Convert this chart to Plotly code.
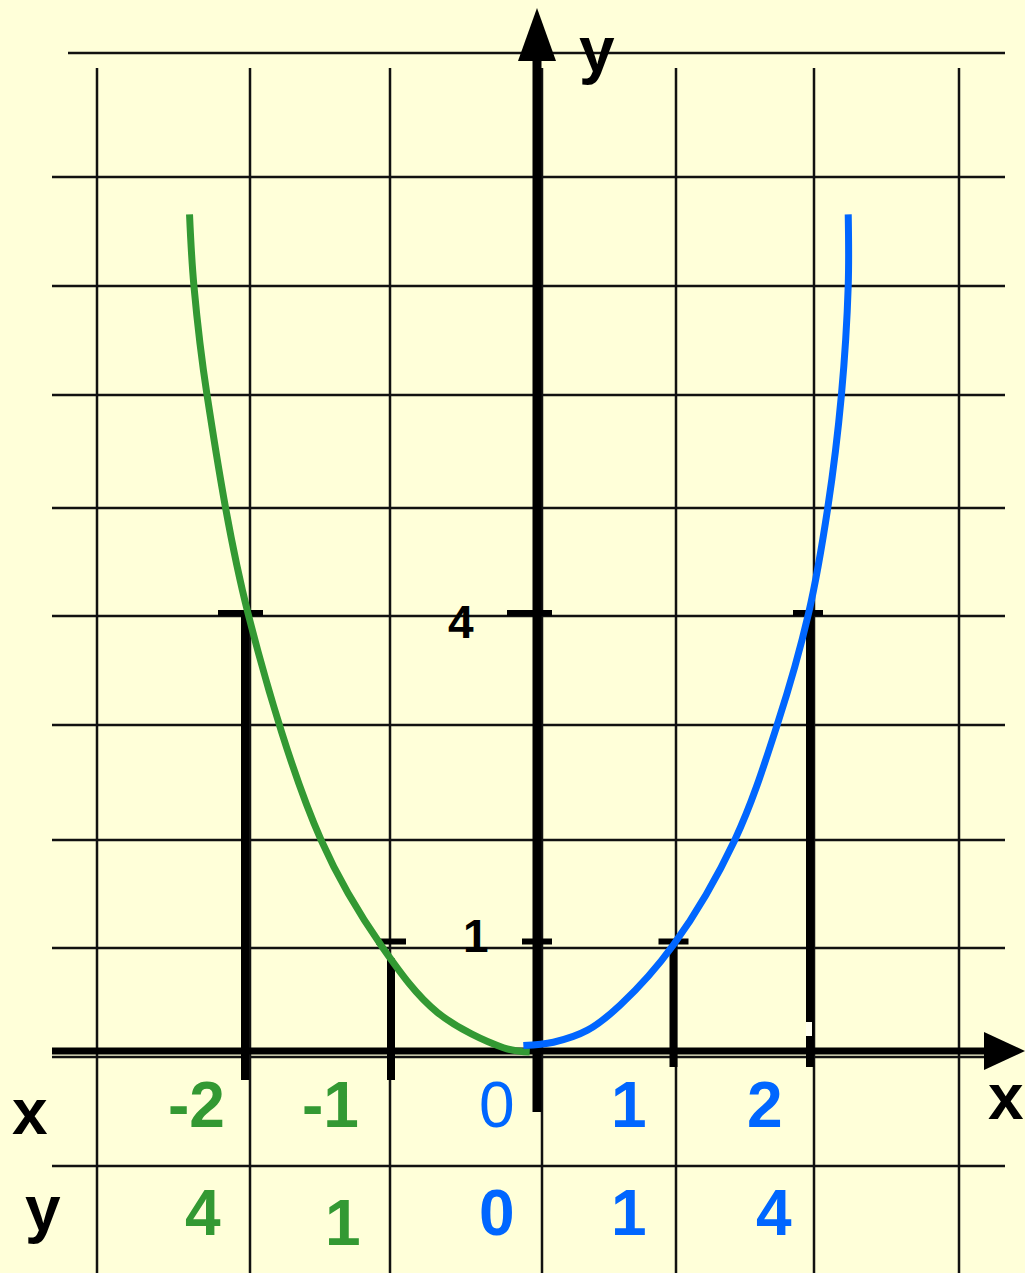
import plotly.graph_objects as go

# ---- values --------------------------------------------------------------
# left branch (x <= 0), drawn in green
green_x = [-2.38, -2.35, -2.26, -1.98, -1.48, -1.06, -0.68, -0.23, -0.05]
green_y = [7.64, 6.99, 5.99, 4.00, 1.93, 0.95, 0.35, 0.03, -0.01]
# right branch (x >= 0), drawn in blue
blue_x = [-0.10, 0.12, 0.37, 0.61, 1.00, 1.45, 1.76, 1.99, 2.13, 2.23, 2.28, 2.28]
blue_y = [0.05, 0.08, 0.19, 0.42, 0.97, 1.93, 2.98, 4.00, 4.96, 5.99, 6.99, 7.64]

# marked points of y = x^2
left_px = [-2, -1]
left_py = [4, 1]
right_px = [1, 2]
right_py = [1, 4]
y_ticks = [4, 1]

# value table under the graph
table_x = ["-2", "-1", "0", "1", "2"]
table_y = ["4", "1", "0", "1", "4"]

# ---- page geometry ---------------------------------------------------------
W, H = 1025, 1273
OX, OY = 537, 1051          # origin in page pixels
UL, UR, UY = 146.0, 136.5, 109.5   # pixels per unit (left half, right half, y)

BG = "#FFFFD9"
GREEN = "#339933"
BLUE = "#0066FF"
FONT = "Liberation Sans, Arial, Helvetica, sans-serif"


def px(x):
    return x / W


def py(y):
    return 1 - y / H


def ydata(pix):
    return (OY - pix) / UY


fig = go.Figure()

# curves
fig.add_trace(go.Scatter(x=green_x, y=green_y, mode="lines", xaxis="x", yaxis="y",
                         line=dict(color=GREEN, width=7, shape="spline", smoothing=1.0),
                         hoverinfo="skip", showlegend=False))
fig.add_trace(go.Scatter(x=blue_x, y=blue_y, mode="lines", xaxis="x2", yaxis="y",
                         line=dict(color=BLUE, width=7, shape="spline", smoothing=1.0),
                         hoverinfo="skip", showlegend=False))

shapes = []

# background grid
grid_cols = [97, 250, 390, 542, 676, 814, 959]
grid_rows = [53, 177, 286, 395, 508, 616, 725, 840, 948, 1057, 1166]
for gx in grid_cols:
    shapes.append(dict(type="line", xref="paper", yref="paper", layer="below",
                       x0=px(gx), x1=px(gx), y0=py(68), y1=py(H),
                       line=dict(color="#111111", width=2.5)))
for i, gy in enumerate(grid_rows):
    start = 68 if i == 0 else 52
    shapes.append(dict(type="line", xref="paper", yref="paper", layer="below",
                       x0=px(start), x1=px(1005), y0=py(gy), y1=py(gy),
                       line=dict(color="#111111", width=2.5)))

# coordinate axes
shapes.append(dict(type="line", xref="x2", yref="paper", layer="below",
                   x0=0, x1=0, y0=py(1112), y1=py(58),
                   line=dict(color="black", width=9)))
shapes.append(dict(type="line", xref="paper", yref="y", layer="below",
                   x0=px(52), x1=px(986), y0=0, y1=0,
                   line=dict(color="black", width=7)))
# arrow heads
shapes.append(dict(type="path", xref="paper", yref="paper", layer="below",
                   path=f"M {px(537)},{py(8)} L {px(556)},{py(61)} L {px(518)},{py(61)} Z",
                   fillcolor="black", line=dict(width=0)))
shapes.append(dict(type="path", xref="paper", yref="paper", layer="below",
                   path=f"M {px(1025)},{py(1051)} L {px(984)},{py(1070)} L {px(984)},{py(1032)} Z",
                   fillcolor="black", line=dict(width=0)))

# drop lines and tick bars for the marked points
left_bars = [(-27, 18), (-15, 15)]
left_tops = [0, 17]          # pixel gap under the bar
for (xv, yv), (b0, b1), gap in zip(zip(left_px, left_py), left_bars, left_tops):
    top = OY - yv * UY + gap
    shapes.append(dict(type="line", xref="x", yref="y", layer="below",
                       x0=xv, x1=xv, y0=ydata(top), y1=ydata(1080),
                       line=dict(color="black", width=8)))
    shapes.append(dict(type="line", xref="x", yref="y", layer="below",
                       xsizemode="pixel", xanchor=xv, x0=b0, x1=b1, y0=yv, y1=yv,
                       line=dict(color="black", width=6)))

right_bars = [(-15, 15), (-17, 13)]
for (xv, yv), (b0, b1) in zip(zip(right_px, right_py), right_bars):
    shapes.append(dict(type="line", xref="x2", yref="y", layer="below",
                       x0=xv, x1=xv, y0=yv, y1=ydata(1067),
                       line=dict(color="black", width=8)))
    shapes.append(dict(type="line", xref="x2", yref="y", layer="below",
                       xsizemode="pixel", xanchor=xv, x0=b0, x1=b1, y0=yv, y1=yv,
                       line=dict(color="black", width=6)))
# small notch in the x = 2 drop line just above the axis
shapes.append(dict(type="rect", xref="x2", yref="y", layer="below",
                   xsizemode="pixel", xanchor=right_px[1], x0=-4, x1=2,
                   y0=ydata(1036), y1=ydata(1022), fillcolor="#FFFFF0", line=dict(width=0)))

# tick bars on the y axis
ytick_bars = [(-30, 15), (-15, 15)]
for yv, (b0, b1) in zip(y_ticks, ytick_bars):
    shapes.append(dict(type="line", xref="x2", yref="y", layer="below",
                       xsizemode="pixel", xanchor=0, x0=b0, x1=b1, y0=yv, y1=yv,
                       line=dict(color="black", width=6)))

annotations = []


def label(text, x, y, size, color="black", bold=True):
    annotations.append(dict(text=text, x=px(x), y=py(y), xref="paper", yref="paper",
                            xanchor="center", yanchor="middle", showarrow=False,
                            font=dict(family=FONT, size=size, color=color,
                                      weight="bold" if bold else "normal")))


# y-axis tick labels
label(str(y_ticks[0]), 461, 622, 46)
label(str(y_ticks[1]), 476, 936, 46)

# axis names
label("y", 597, 50, 64)
label("x", 1006, 1097, 64)

# table
label("x", 30, 1112, 64)
label("y", 43, 1209, 64)
x_cols = [196, 330, 497, 629, 765]
y_cols = [203, 343, 497, 629, 774]
y_rows = [1213, 1223, 1213, 1213, 1213]
colors = [GREEN, GREEN, BLUE, BLUE, BLUE]
for i, (tx, ty) in enumerate(zip(table_x, table_y)):
    label(tx, x_cols[i], 1105, 64, colors[i], bold=(i != 2))
    label(ty, y_cols[i], y_rows[i], 64, colors[i])

fig.update_layout(
    width=W, height=H, autosize=False,
    margin=dict(l=0, r=0, t=0, b=0),
    paper_bgcolor=BG, plot_bgcolor="rgba(0,0,0,0)",
    showlegend=False,
    xaxis=dict(range=[-OX / UL, (W - OX) / UL], visible=False, fixedrange=True),
    xaxis2=dict(range=[-OX / UR, (W - OX) / UR], visible=False, fixedrange=True,
                overlaying="x"),
    yaxis=dict(range=[(OY - H) / UY, OY / UY], visible=False, fixedrange=True),
    shapes=shapes,
    annotations=annotations,
)

fig.write_html("out.html", config={"displayModeBar": False})
